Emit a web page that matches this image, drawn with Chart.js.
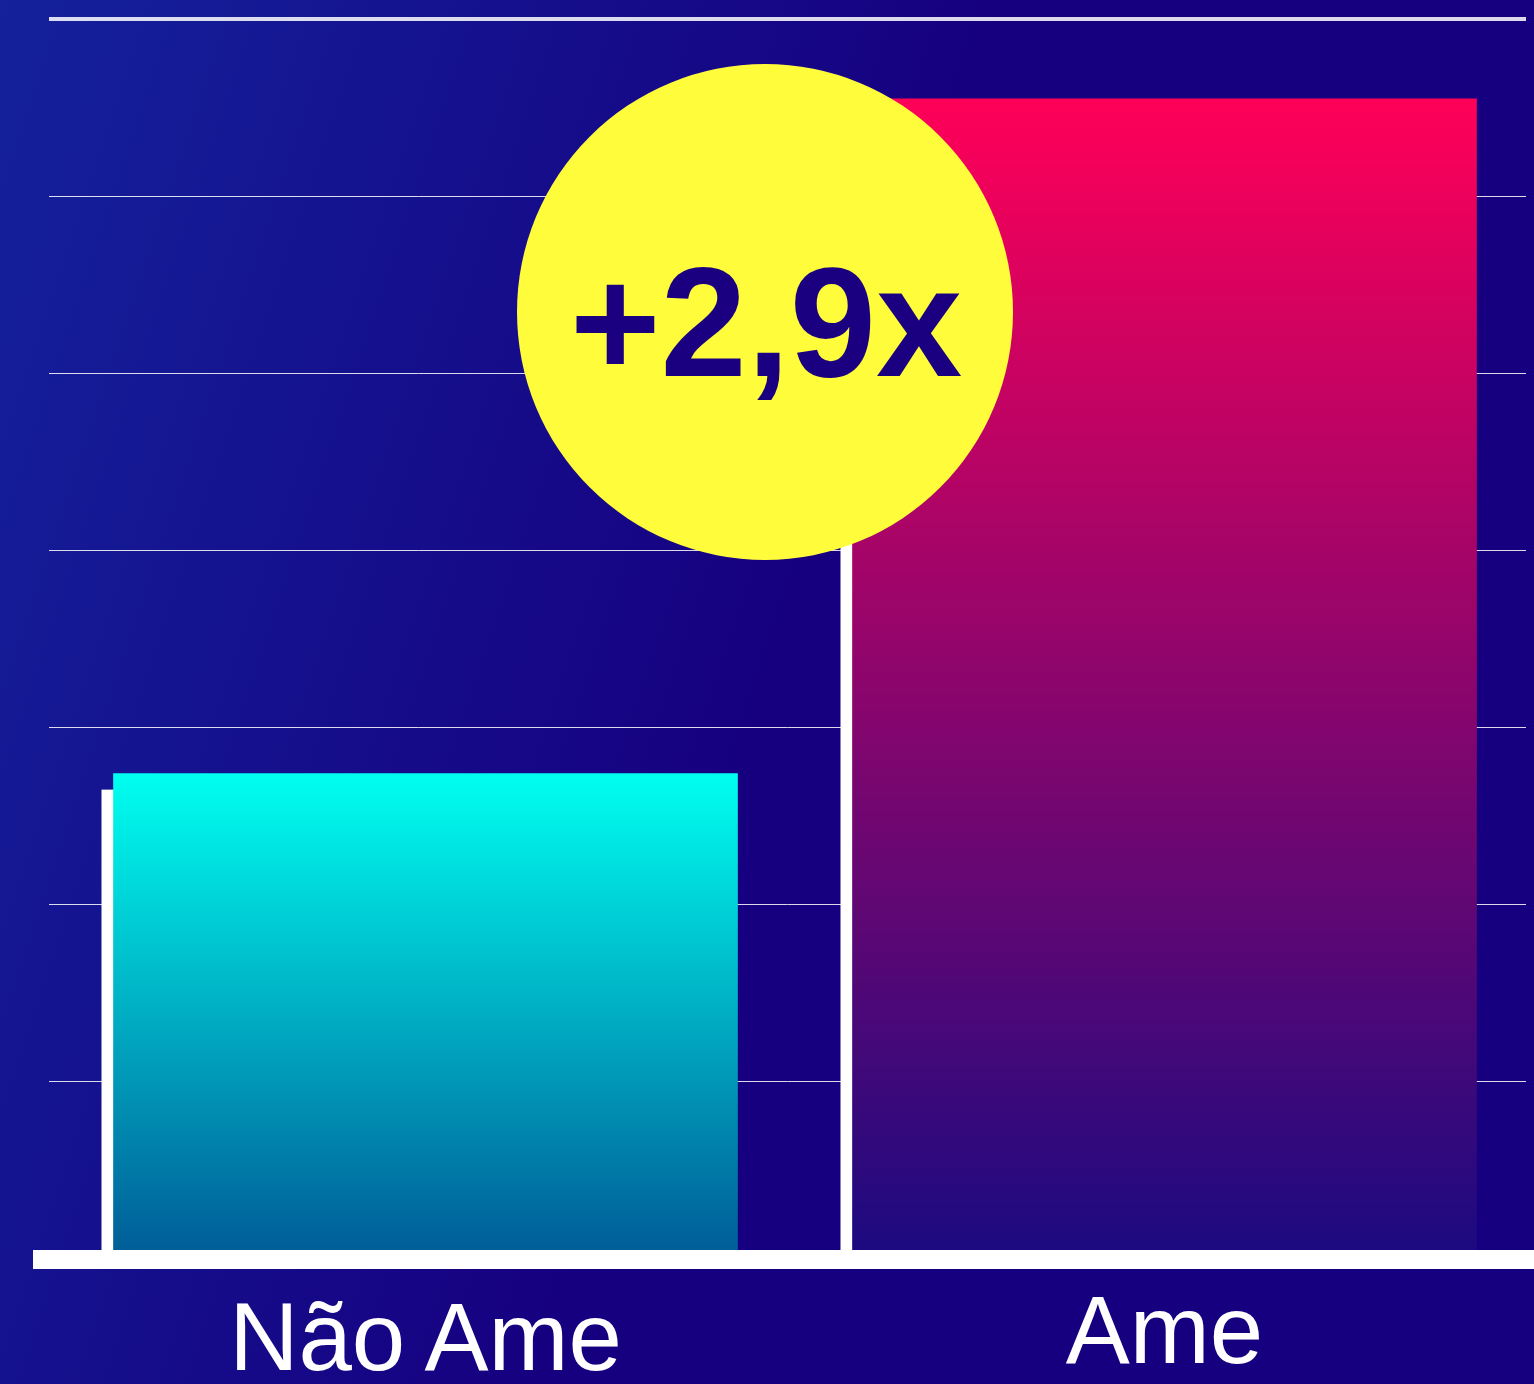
<!DOCTYPE html>
<html>
<head>
<meta charset="utf-8">
<script src="https://cdn.jsdelivr.net/npm/chart.js@4.4.1/dist/chart.umd.min.js"></script>
<style>
  html, body { margin: 0; padding: 0; background: #160080; }
  canvas { display: block; }
</style>
</head>
<body>
<canvas id="myChart" width="1534" height="1384"></canvas>
<script>
var categorias = ['Não\u2009Ame', 'Ame'];
var valores = [2.74, 6.55];
var multiplicador = '+2,9x';
var escalaMax = 7;

var ctx = document.getElementById('myChart').getContext('2d');

// degradê das barras, do topo do valor até a base
function degrade(context, cima, baixo) {
    var area = context.chart.chartArea;
    if (!area) return cima;
    var topo = context.chart.scales.y.getPixelForValue(context.raw);
    var g = context.chart.ctx.createLinearGradient(0, topo, 0, area.bottom - 9);
    g.addColorStop(0, cima);
    g.addColorStop(1, baixo);
    return g;
}

var fundoPlugin = {
    id: 'fundo',
    beforeDraw: function(chart) {
        var c = chart.ctx;
        c.save();
        var g = c.createLinearGradient(0, 0, 900, 300);
        g.addColorStop(0, '#14219b');
        g.addColorStop(1, '#160080');
        c.fillStyle = g;
        c.fillRect(0, 0, chart.width, chart.height);
        c.restore();
    }
};

// linhas de grade desenhadas a partir da escala y
var gradePlugin = {
    id: 'grade',
    beforeDatasetsDraw: function(chart) {
        var c = chart.ctx;
        var y = chart.scales.y;
        c.save();
        c.strokeStyle = '#ffffff';
        for (var v = 1; v <= escalaMax; v++) {
            var py = y.getPixelForValue(v);
            c.beginPath();
            if (v == escalaMax) {
                c.lineWidth = 4;
            } else {
                c.lineWidth = 1;
                py = Math.floor(py) + 0.5;
                c.strokeStyle = 'rgba(255,255,255,0.85)';
            }
            c.moveTo(49, py);
            c.lineTo(1526, py);
            c.stroke();
        }
        // faixa branca atrás de cada barra
        c.fillStyle = '#ffffff';
        var meta = chart.getDatasetMeta(0);
        meta.data.forEach(function(bar) {
            var esq = bar.x - bar.width / 2 - 12;
            var topo = bar.y + 16;
            c.fillRect(esq, topo, bar.width, bar.base - topo);
        });
        c.restore();
    },
    afterDatasetsDraw: function(chart) {
        var c = chart.ctx;
        var py = chart.scales.y.getPixelForValue(0) + 0.5;
        c.save();
        c.strokeStyle = '#ffffff';
        c.lineWidth = 19;
        c.beginPath();
        c.moveTo(33, py);
        c.lineTo(1534, py);
        c.stroke();

        // círculo amarelo com o multiplicador
        c.fillStyle = '#fffc3b';
        c.beginPath();
        c.arc(765, 312, 248, 0, Math.PI * 2);
        c.fill();
        c.fillStyle = '#1a0080';
        c.font = 'bold 155px "Liberation Sans", Arial, sans-serif';
        c.textAlign = 'center';
        c.textBaseline = 'alphabetic';
        c.fillText(multiplicador, 766, 376);
        c.restore();
    }
};

var graphData = {
    type: 'bar',
    data: {
        labels: categorias,
        datasets: [{
            data: valores,
            backgroundColor: function(context) {
                if (context.dataIndex == 0) return degrade(context, '#00fff0', '#005e98');
                return degrade(context, '#ff0058', '#1c0a80');
            },
            borderWidth: 0,
            barThickness: 624
        }]
    },
    options: {
        responsive: false,
        animation: false,
        layout: { padding: { left: 56, right: 0, top: 19, bottom: 0 } },
        plugins: {
            legend: { display: false },
            tooltip: { enabled: false }
        },
        scales: {
            x: {
                grid: { display: false, drawTicks: false },
                border: { display: false },
                ticks: {
                    color: '#ffffff',
                    padding: 23,
                    font: function(context) {
                        return {
                            family: '"Liberation Sans", Arial, sans-serif',
                            size: 96,
                            lineHeight: context.index == 0 ? 1.29 : 1.146
                        };
                    }
                },
                afterFit: function(scale) { scale.height = 125; }
            },
            y: {
                display: false,
                min: 0,
                max: escalaMax,
                ticks: { stepSize: 1 }
            }
        }
    },
    plugins: [fundoPlugin, gradePlugin]
};

var myChart = new Chart(ctx, graphData);
</script>
</body>
</html>
